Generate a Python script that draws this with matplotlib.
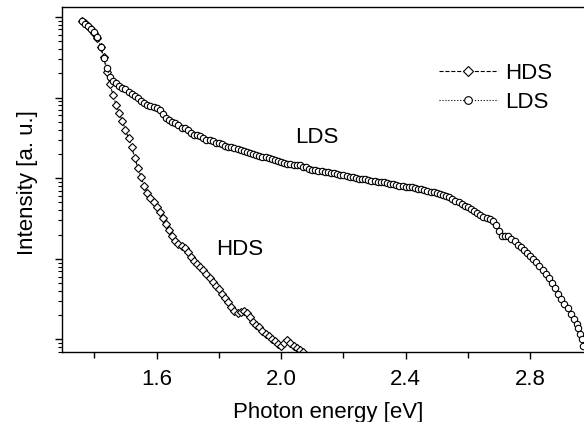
import matplotlib
matplotlib.use("Agg")
import matplotlib.pyplot as plt
from matplotlib.ticker import MultipleLocator, NullFormatter, LogLocator

plt.rcParams['font.family'] = ['Liberation Sans', 'DejaVu Sans']

# photon energy [eV] and log10 of intensity
hds_energy = [1.36, 1.37, 1.38, 1.39, 1.40, 1.41, 1.42, 1.43, 1.44, 1.45,
              1.46, 1.47, 1.48, 1.49, 1.50, 1.51, 1.52, 1.53, 1.54, 1.55,
              1.56, 1.57, 1.58, 1.59, 1.60, 1.61, 1.62, 1.63, 1.64, 1.65,
              1.66, 1.67, 1.68, 1.69, 1.70, 1.71, 1.72, 1.73, 1.74, 1.75,
              1.76, 1.77, 1.78, 1.79, 1.80, 1.81, 1.82, 1.83, 1.84, 1.85,
              1.86, 1.87, 1.88, 1.89, 1.90, 1.91, 1.92, 1.93, 1.94, 1.95,
              1.96, 1.97, 1.98, 1.99, 2.00, 2.01, 2.02, 2.03, 2.04, 2.05,
              2.06, 2.07]
hds_log = [3.955, 3.925, 3.885, 3.845, 3.800, 3.740, 3.628, 3.503, 3.318, 3.169,
           3.032, 2.908, 2.809, 2.710, 2.598, 2.493, 2.381, 2.251, 2.127, 2.015,
           1.903, 1.816, 1.754, 1.705, 1.643, 1.581, 1.512, 1.432, 1.357, 1.283,
           1.227, 1.190, 1.159, 1.134, 1.084, 1.028, 0.973, 0.935, 0.904, 0.861,
           0.811, 0.762, 0.712, 0.663, 0.620, 0.563, 0.514, 0.464, 0.402, 0.352,
           0.328, 0.340, 0.347, 0.328, 0.278, 0.216, 0.179, 0.154, 0.104, 0.067,
           0.042, 0.011, -0.020, -0.057, -0.082, -0.045, -0.007, -0.045, -0.082, -0.107,
           -0.132, -0.156]

lds_energy = [1.36, 1.37, 1.38, 1.39, 1.40, 1.41, 1.42, 1.43, 1.44, 1.45,
              1.46, 1.47, 1.48, 1.49, 1.50, 1.51, 1.52, 1.53, 1.54, 1.55,
              1.56, 1.57, 1.58, 1.59, 1.60, 1.61, 1.62, 1.63, 1.64, 1.65,
              1.66, 1.67, 1.68, 1.69, 1.70, 1.71, 1.72, 1.73, 1.74, 1.75,
              1.76, 1.77, 1.78, 1.79, 1.80, 1.81, 1.82, 1.83, 1.84, 1.85,
              1.86, 1.87, 1.88, 1.89, 1.90, 1.91, 1.92, 1.93, 1.94, 1.95,
              1.96, 1.97, 1.98, 1.99, 2.00, 2.01, 2.02, 2.03, 2.04, 2.05,
              2.06, 2.07, 2.08, 2.09, 2.10, 2.11, 2.12, 2.13, 2.14, 2.15,
              2.16, 2.17, 2.18, 2.19, 2.20, 2.21, 2.22, 2.23, 2.24, 2.25,
              2.26, 2.27, 2.28, 2.29, 2.30, 2.31, 2.32, 2.33, 2.34, 2.35,
              2.36, 2.37, 2.38, 2.39, 2.40, 2.41, 2.42, 2.43, 2.44, 2.45,
              2.46, 2.47, 2.48, 2.49, 2.50, 2.51, 2.52, 2.53, 2.54, 2.55,
              2.56, 2.57, 2.58, 2.59, 2.60, 2.61, 2.62, 2.63, 2.64, 2.65,
              2.66, 2.67, 2.68, 2.69, 2.70, 2.71, 2.72, 2.73, 2.74, 2.75,
              2.76, 2.77, 2.78, 2.79, 2.80, 2.81, 2.82, 2.83, 2.84, 2.85,
              2.86, 2.87, 2.88, 2.89, 2.90, 2.91, 2.92, 2.93, 2.94, 2.95,
              2.955, 2.96, 2.965, 2.97]
lds_log = [3.950, 3.919, 3.888, 3.851, 3.814, 3.746, 3.628, 3.491, 3.367, 3.256,
           3.212, 3.181, 3.150, 3.125, 3.101, 3.070, 3.039, 3.014, 2.989, 2.964,
           2.933, 2.908, 2.896, 2.883, 2.871, 2.846, 2.797, 2.753, 2.722, 2.703,
           2.679, 2.654, 2.629, 2.617, 2.592, 2.567, 2.542, 2.530, 2.518, 2.499,
           2.480, 2.468, 2.456, 2.443, 2.431, 2.419, 2.400, 2.387, 2.390, 2.375,
           2.363, 2.350, 2.338, 2.325, 2.313, 2.301, 2.288, 2.276, 2.263, 2.257,
           2.251, 2.238, 2.226, 2.213, 2.201, 2.189, 2.182, 2.176, 2.170, 2.164,
           2.158, 2.145, 2.133, 2.120, 2.108, 2.102, 2.095, 2.089, 2.077, 2.073,
           2.064, 2.060, 2.052, 2.040, 2.036, 2.027, 2.021, 2.015, 2.002, 1.996,
           1.990, 1.984, 1.978, 1.971, 1.965, 1.959, 1.953, 1.947, 1.940, 1.934,
           1.922, 1.916, 1.909, 1.903, 1.897, 1.891, 1.885, 1.878, 1.866, 1.860,
           1.854, 1.841, 1.829, 1.823, 1.816, 1.804, 1.792, 1.779, 1.761, 1.742,
           1.723, 1.705, 1.686, 1.661, 1.648, 1.624, 1.593, 1.568, 1.543, 1.524,
           1.512, 1.500, 1.475, 1.419, 1.345, 1.289, 1.283, 1.285, 1.252, 1.215,
           1.177, 1.146, 1.109, 1.072, 1.035, 0.998, 0.960, 0.905, 0.861, 0.812,
           0.756, 0.694, 0.638, 0.569, 0.501, 0.439, 0.395, 0.315, 0.259, 0.197,
           0.140, 0.067, 0.000, -0.080]

hds = [10 ** v for v in hds_log]
lds = [10 ** v for v in lds_log]

fig = plt.figure(figsize=(5.84, 4.22), dpi=100)
ax = fig.add_axes([62 / 584, 1 - 352 / 422, 522 / 584, 345 / 422])

ax.plot(hds_energy, hds, linestyle='--', linewidth=0.8, color='black',
        marker='D', markersize=4.0, markerfacecolor='white',
        markeredgecolor='black', markeredgewidth=0.8, label='HDS')
ax.plot(lds_energy, lds, linestyle=':', linewidth=0.8, color='black',
        marker='o', markersize=4.6, markerfacecolor='white',
        markeredgecolor='black', markeredgewidth=0.8, label='LDS')

ax.set_yscale('log')
ax.set_xlim(1.296, 2.973)
ax.set_ylim(10 ** -0.156, 10 ** 4.124)

ax.xaxis.set_major_locator(MultipleLocator(0.4))
ax.xaxis.set_minor_locator(MultipleLocator(0.2))
ax.yaxis.set_major_locator(LogLocator(base=10))
ax.yaxis.set_minor_locator(LogLocator(base=10, subs=range(2, 10)))
ax.yaxis.set_major_formatter(NullFormatter())
ax.yaxis.set_minor_formatter(NullFormatter())

ax.tick_params(axis='x', which='major', direction='out', length=5, width=1,
               labelsize=16, pad=7)
ax.tick_params(axis='x', which='minor', direction='out', length=4, width=1)
ax.tick_params(axis='y', which='major', direction='out', length=5, width=1)
ax.tick_params(axis='y', which='minor', direction='out', length=3, width=0.8)

ax.spines['right'].set_visible(False)
for s in ['left', 'bottom', 'top']:
    ax.spines[s].set_linewidth(1.0)

ax.set_xlabel('Photon energy [eV]', fontsize=16, labelpad=9)
ax.set_ylabel('Intensity [a. u.]', fontsize=16, labelpad=9)
ax.xaxis.label.set_x(0.51)
ax.yaxis.label.set_y(0.49)

ax.text(2.046, 10 ** 2.437, 'LDS', fontsize=16, ha='left', va='baseline')
ax.text(1.792, 10 ** 1.047, 'HDS', fontsize=16, ha='left', va='baseline')

ax.legend(loc='upper left', bbox_to_anchor=(439 / 584, 1 - 63 / 422),
          bbox_transform=fig.transFigure, frameon=False, fontsize=16,
          numpoints=1, markerscale=1.2, handlelength=2.65, handletextpad=0.33,
          labelspacing=0.37, borderpad=0, borderaxespad=0)

fig.savefig('out.png', dpi=100)
